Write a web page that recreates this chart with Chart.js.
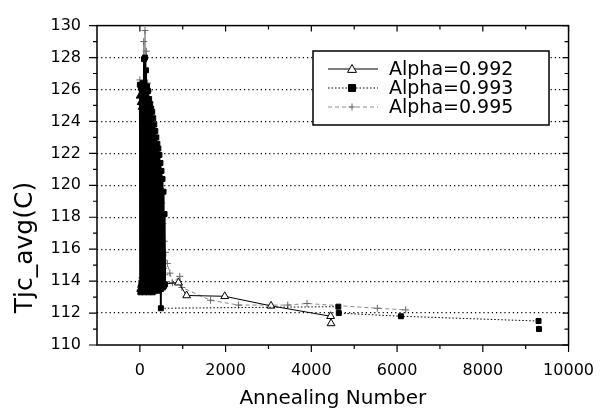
<!DOCTYPE html>
<html>
<head>
<meta charset="utf-8">
<script src="https://cdn.jsdelivr.net/npm/chart.js@4.4.0/dist/chart.umd.min.js"></script>
<style>
  html, body { margin: 0; padding: 0; background: #fff; }
  #wrap { width: 610px; height: 411px; position: relative; }
</style>
</head>
<body>
<div id="wrap"><canvas id="annealChart"></canvas></div>
<script>
// Tjc_avg vs annealing number, three cooling factors

const seriesLabels = ['Alpha=0.992', 'Alpha=0.993', 'Alpha=0.995'];

// Alpha=0.992 (open triangles, solid line)
const a992X = [6, 18, 30, 42, 54, 66, 78, 90, 102, 114, 126, 138, 150, 162, 174, 186, 198, 210, 222, 234,
  246, 258, 270, 282, 294, 306, 318, 330, 342, 354, 366, 378, 390, 402, 414, 426, 438, 450,
  900, 1090, 1980, 3060, 4450, 4460];
const a992Y = [125.6, 113.5, 125.2, 113.8, 124.9, 113.4, 126.0, 114.0, 125.8, 113.5, 125.3, 113.7, 124.8, 113.4,
  124.5, 113.9, 124.1, 113.5, 123.8, 113.7, 123.2, 113.4, 122.9, 114.1, 122.3, 113.6, 121.8, 113.5, 121.2, 113.9,
  120.6, 113.5, 119.8, 113.7, 119.2, 113.5, 118.4, 113.8,
  113.9, 113.1, 113.05, 112.45, 111.8, 111.35];

// Alpha=0.993 (filled squares, dotted line)
const a993X = [0, 12, 24, 36, 48, 60, 72, 84, 96, 108, 120, 132, 144, 156, 168, 180, 192, 204, 216, 228,
  240, 252, 264, 276, 288, 300, 312, 324, 336, 348, 360, 372, 384, 396, 408, 420, 432, 444, 456, 468,
  492, 504, 516, 528, 540, 552, 564, 576, 588, 480, 490,
  4630, 4640, 6090, 9300, 9310];
const a993Y = [126.3, 113.3, 126.1, 113.9, 125.7, 113.4, 126.4, 113.6, 127.9, 113.3, 128.0, 114.1, 127.2, 113.4,
  126.2, 113.7, 125.9, 113.3, 125.4, 114.0, 125.1, 113.4, 124.8, 113.8, 124.6, 113.3, 124.2, 113.9, 123.8, 113.4,
  123.4, 114.2, 123.0, 113.5, 122.6, 113.8, 122.3, 113.4, 121.9, 114.0,
  113.5, 120.9, 113.9, 120.4, 113.6, 119.6, 113.7, 118.2, 113.8, 121.4, 112.3,
  112.4, 112.0, 111.8, 111.5, 111.0];

// Alpha=0.995 (grey crosses, dashed line)
const a995X = [0, 15, 30, 45, 60, 75, 90, 105, 120, 135, 150, 165, 180, 195, 210, 225, 240, 255, 270, 285,
  300, 315, 330, 345, 360, 375, 390, 405, 420, 435, 450, 465, 480, 495, 510, 525, 540, 555, 570, 585, 600,
  640, 700, 760, 930, 980, 1650, 2300, 3450, 3900, 5540, 6200];
const a995Y = [126.6, 113.6, 126.0, 114.2, 125.8, 113.7, 129.0, 113.9, 129.7, 114.4, 128.4, 113.8, 126.4, 114.1,
  125.9, 113.7, 125.2, 114.5, 124.6, 113.9, 124.0, 114.2, 123.4, 113.8, 122.9, 114.6, 122.1, 113.9, 121.4, 114.3,
  120.6, 114.0, 119.8, 114.7, 118.9, 114.2, 117.6, 114.8, 116.5, 114.4, 115.8,
  115.1, 114.5, 113.9, 114.3, 113.6, 112.8, 112.5, 112.5, 112.6, 112.3, 112.2];

const xTickValues = [0, 2000, 4000, 6000, 8000, 10000];
const xMinorValues = [1000, 3000, 5000, 7000, 9000];
const yTickValues = [110, 112, 114, 116, 118, 120, 122, 124, 126, 128, 130];
const yMinorValues = [111, 113, 115, 117, 119, 121, 123, 125, 127, 129];

const FONT = 'DejaVu Sans';
const CLUSTER_END = 620; // dense early-annealing block ends here

function toPoints(xs, ys) {
  return xs.map((x, i) => ({ x: x, y: ys[i] }));
}

function inCluster(c) {
  return c.p0.parsed.x <= CLUSTER_END && c.p1.parsed.x <= CLUSTER_END;
}

// dense block is drawn with solid segments, the tail keeps the series dash
function clusterDash(dash) {
  return c => (inCluster(c) ? [] : dash);
}

// frame box + Origin style tick marks (out on left/bottom, in on top/right)
const framePlugin = {
  id: 'frame',
  afterDraw(chart) {
    const ctx = chart.ctx;
    const a = chart.chartArea;
    const xs = chart.scales.x;
    const ys = chart.scales.y;
    ctx.save();
    ctx.strokeStyle = '#000';
    ctx.lineWidth = 1.5;
    ctx.strokeRect(a.left, a.top, a.right - a.left, a.bottom - a.top);
    ctx.lineWidth = 1.2;
    ctx.beginPath();
    const tickX = (v, len, inLen) => {
      const px = xs.getPixelForValue(v);
      ctx.moveTo(px, a.bottom); ctx.lineTo(px, a.bottom + len);
      ctx.moveTo(px, a.top); ctx.lineTo(px, a.top + inLen);
    };
    const tickY = (v, len, inLen) => {
      const py = ys.getPixelForValue(v);
      ctx.moveTo(a.left, py); ctx.lineTo(a.left - len, py);
      ctx.moveTo(a.right, py); ctx.lineTo(a.right - inLen, py);
    };
    xTickValues.forEach(v => tickX(v, 7, 6));
    xMinorValues.forEach(v => tickX(v, 4, 4));
    yTickValues.forEach(v => tickY(v, 8, 6));
    yMinorValues.forEach(v => tickY(v, 4, 4));
    ctx.stroke();
    ctx.restore();
  }
};

// boxed legend inside the plot, upper right
const legendPlugin = {
  id: 'boxLegend',
  afterDraw(chart) {
    const ctx = chart.ctx;
    const box = { left: 313, top: 51, right: 549, bottom: 125 };
    ctx.save();
    ctx.fillStyle = '#fff';
    ctx.fillRect(box.left, box.top, box.right - box.left, box.bottom - box.top);
    ctx.strokeStyle = '#000';
    ctx.lineWidth = 1.5;
    ctx.strokeRect(box.left, box.top, box.right - box.left, box.bottom - box.top);

    chart.data.datasets.forEach((ds, i) => {
      const y = 69 + i * 19;
      ctx.save();
      ctx.strokeStyle = ds.borderColor;
      ctx.lineWidth = 1;
      ctx.setLineDash(ds.borderDash || []);
      ctx.beginPath();
      ctx.moveTo(328, y); ctx.lineTo(378, y);
      ctx.stroke();
      ctx.setLineDash([]);
      ctx.fillStyle = i === 0 ? '#fff' : '#000';
      ctx.strokeStyle = ds.pointBorderColor;
      ctx.lineWidth = ds.pointBorderWidth;
      ctx.beginPath();
      const r = ds.pointRadius;
      if (ds.pointStyle === 'triangle') {
        ctx.moveTo(352, y - r); ctx.lineTo(352 + r, y + r * 0.75); ctx.lineTo(352 - r, y + r * 0.75); ctx.closePath();
        ctx.fill(); ctx.stroke();
      } else if (ds.pointStyle === 'rect') {
        ctx.rect(352 - r, y - r, 2 * r, 2 * r);
        ctx.fill(); ctx.stroke();
      } else {
        ctx.moveTo(352 - r, y); ctx.lineTo(352 + r, y);
        ctx.moveTo(352, y - r); ctx.lineTo(352, y + r);
        ctx.stroke();
      }
      ctx.restore();
      ctx.fillStyle = '#000';
      ctx.font = '19px "' + FONT + '"';
      ctx.textBaseline = 'middle';
      ctx.fillText(seriesLabels[i], 389, y + 1);
    });
    ctx.restore();
  }
};

const ctx = document.getElementById('annealChart').getContext('2d');
const annealChart = new Chart(ctx, {
  type: 'scatter',
  data: {
    datasets: [
      {
        label: seriesLabels[0],
        data: toPoints(a992X, a992Y),
        showLine: true,
        borderColor: '#000',
        borderWidth: 1,
        segment: { borderWidth: c => (inCluster(c) ? 2 : 1) },
        pointStyle: 'triangle',
        pointRadius: 4.5,
        pointBorderWidth: 1,
        pointBorderColor: '#000',
        pointBackgroundColor: c => (c.raw && c.raw.x > CLUSTER_END ? '#fff' : '#000'),
        order: 2
      },
      {
        label: seriesLabels[1],
        data: toPoints(a993X, a993Y),
        showLine: true,
        borderColor: '#000',
        borderWidth: 1,
        borderDash: [1.5, 2],
        segment: { borderDash: clusterDash([1.5, 2]), borderWidth: c => (inCluster(c) ? 2 : 1) },
        pointStyle: 'rect',
        pointRadius: 3.5,
        pointBorderWidth: 1,
        pointBorderColor: '#000',
        pointBackgroundColor: '#000',
        order: 1
      },
      {
        label: seriesLabels[2],
        data: toPoints(a995X, a995Y),
        showLine: true,
        borderColor: '#8a8a8a',
        borderWidth: 1,
        borderDash: [4, 3],
        segment: { borderDash: clusterDash([4, 3]) },
        pointStyle: 'cross',
        pointRadius: 3.5,
        pointBorderWidth: 1,
        pointBorderColor: '#666',
        pointBackgroundColor: '#666',
        order: 3
      }
    ]
  },
  options: {
    responsive: true,
    maintainAspectRatio: false,
    animation: false,
    events: [],
    layout: { padding: { top: 16, right: 41, bottom: 0, left: 0 } },
    plugins: {
      legend: { display: false },
      tooltip: { enabled: false }
    },
    scales: {
      x: {
        type: 'linear',
        min: -1000,
        max: 10000,
        afterBuildTicks: s => { s.ticks = xTickValues.map(v => ({ value: v })); },
        afterFit: s => { s.height = 66; },
        grid: { display: true, drawOnChartArea: false, drawTicks: false },
        border: { display: false },
        ticks: {
          color: '#000',
          font: { family: FONT, size: 16 },
          padding: 16,
          maxRotation: 0,
          callback: v => String(v)
        },
        title: {
          display: true,
          text: 'Annealing Number',
          color: '#000',
          font: { family: FONT, size: 20 },
          padding: { top: 0, bottom: 0 }
        }
      },
      y: {
        min: 110,
        max: 130,
        afterBuildTicks: s => { s.ticks = yTickValues.map(v => ({ value: v })); },
        afterFit: s => { s.width = 97; },
        grid: {
          drawTicks: false,
          lineWidth: 1.2,
          color: c => (c.tick && (c.tick.value === 110 || c.tick.value === 130)) ? 'rgba(0,0,0,0)' : '#000'
        },
        border: { display: false, dash: [1.2, 3] },
        ticks: { color: '#000', font: { family: FONT, size: 16 }, padding: 16 },
        title: {
          display: true,
          text: '    Tjc_avg(C)',
          align: 'start',
          color: '#000',
          font: { family: FONT, size: 25 },
          padding: { top: 10, bottom: 0 }
        }
      }
    }
  },
  plugins: [framePlugin, legendPlugin]
});
</script>
</body>
</html>
